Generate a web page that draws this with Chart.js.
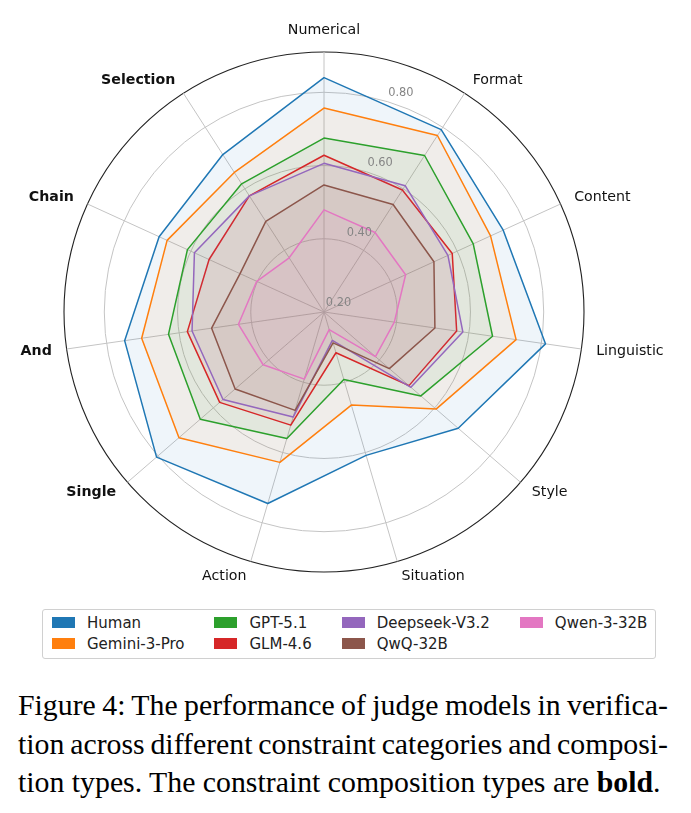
<!DOCTYPE html>
<html>
<head>
<meta charset="utf-8">
<script src="https://cdn.jsdelivr.net/npm/chart.js@4"></script>
<style>
  body { margin: 0; background: #fff; width: 691px; height: 813px; position: relative; overflow: hidden; }
  #wrap { position: absolute; left: 0; top: 0; width: 691px; height: 600px; }
  #legend {
    position: absolute; left: 42px; top: 609px;
    border: 1px solid #d0d0d0; border-radius: 3px;
    padding: 2px 8px 4px 9px;
    display: grid; grid-auto-flow: column; grid-template-rows: 21px 21px;
    column-gap: 30px;
    font-family: "DejaVu Sans", sans-serif; font-size: 15px; color: #222;
  }
  #legend .item { display: flex; align-items: center; white-space: nowrap; }
  #legend .sw { width: 23px; height: 11px; margin-right: 12px; }
  #caption {
    position: absolute; left: 18px; top: 686px; width: 650px;
    font-family: "Liberation Serif", "Times New Roman", serif; font-size: 29.8px;
    line-height: 38.5px; color: #000;
  }
  #caption div { white-space: nowrap; }
  #caption .j { text-align: justify; text-align-last: justify; word-spacing: -2.5px; }
</style>
</head>
<body>
<div id="wrap"><canvas id="radar" width="691" height="600"></canvas></div>
<div id="legend"></div>
<div id="caption">
  <div class="j">Figure 4: The performance of judge models in verifica-</div>
  <div class="j">tion across different constraint categories and composi-</div>
  <div>tion types. The constraint composition types are <b>bold</b>.</div>
</div>
<script>
// axis categories (clockwise from the top)
const categories = ["Numerical", "Format", "Content", "Linguistic", "Style", "Situation",
  "Action", "Single", "And", "Chain", "Selection"];
// composition types get bold labels
const boldCategories = ["Single", "And", "Chain", "Selection"];

// series values
const human    = [0.840, 0.792, 0.738, 0.811, 0.685, 0.608, 0.745, 0.805, 0.750, 0.695, 0.711];
const gemini   = [0.757, 0.773, 0.700, 0.730, 0.605, 0.465, 0.628, 0.724, 0.703, 0.671, 0.653];
const gpt      = [0.675, 0.708, 0.648, 0.665, 0.550, 0.392, 0.560, 0.647, 0.629, 0.610, 0.616];
const glm      = [0.628, 0.596, 0.585, 0.566, 0.507, 0.316, 0.522, 0.577, 0.577, 0.545, 0.577];
const deepseek = [0.606, 0.610, 0.572, 0.583, 0.514, 0.281, 0.499, 0.565, 0.564, 0.589, 0.577];
const qwq      = [0.547, 0.549, 0.530, 0.506, 0.436, 0.288, 0.480, 0.521, 0.510, 0.452, 0.494];
const qwen     = [0.479, 0.458, 0.445, 0.394, 0.386, 0.250, 0.391, 0.420, 0.436, 0.402, 0.376];

const seriesNames = ["Human", "Gemini-3-Pro", "GPT-5.1", "GLM-4.6", "Deepseek-V3.2", "QwQ-32B", "Qwen-3-32B"];
const seriesValues = [human, gemini, gpt, glm, deepseek, qwq, qwen];
const seriesColors = ["#1f77b4", "#ff7f0e", "#2ca02c", "#d62728", "#9467bd", "#8c564b", "#e377c2"];

// radial tick labels
const tickValues = [0.2, 0.4, 0.6, 0.8];
const tickLabels = ["0.20", "0.40", "0.60", "0.80"];

function withAlpha(hex, a) {
  var r = parseInt(hex.slice(1, 3), 16), g = parseInt(hex.slice(3, 5), 16), b = parseInt(hex.slice(5, 7), 16);
  return "rgba(" + r + "," + g + "," + b + "," + a + ")";
}

// Build datasets; later series sit on top, like the original
var datasets = seriesNames.map(function (name, i) {
  return {
    label: name,
    data: seriesValues[i],
    borderColor: seriesColors[i],
    backgroundColor: withAlpha(seriesColors[i], 0.07),
    borderWidth: 1.5,
    borderJoinStyle: "round",
    pointRadius: 0,
    fill: true,
    order: seriesNames.length - i
  };
});

const rMin = 0.2, rMax = 0.91;

// Draws the tick labels and category labels the way matplotlib places them
const labelPlugin = {
  id: "labelPlugin",
  afterDraw(chart) {
    const scale = chart.scales.r;
    const ctx = chart.ctx;
    ctx.save();
    // radial tick labels along a slanted line
    ctx.font = "11.4px 'DejaVu Sans'";
    ctx.fillStyle = "#858585";
    ctx.textAlign = "left";
    ctx.textBaseline = "bottom";
    const a = 16.5 * Math.PI / 180;
    tickValues.forEach(function (v, k) {
      const d = scale.getDistanceFromCenterForValue(v) + 3;
      ctx.fillText(tickLabels[k], scale.xCenter + d * Math.sin(a) + 1, scale.yCenter - d * Math.cos(a));
    });
    // category labels, anchored just outside the outer ring
    categories.forEach(function (name, i) {
      const p = scale.getPointPosition(i, scale.drawingArea + 15);
      const t = p.angle + Math.PI / 2; // clockwise from the top
      const sx = Math.sin(t), cy = Math.cos(t);
      ctx.font = (boldCategories.indexOf(name) !== -1 ? "bold " : "") + "14.2px 'DejaVu Sans'";
      ctx.fillStyle = "#111";
      if (Math.abs(sx) < 0.05) {
        ctx.textAlign = "center";
        ctx.textBaseline = cy > 0 ? "bottom" : "top";
      } else {
        ctx.textAlign = sx > 0 ? "left" : "right";
        ctx.textBaseline = "middle";
      }
      ctx.fillText(name, p.x, p.y);
    });
    ctx.restore();
  }
};

new Chart(document.getElementById("radar"), {
  type: "radar",
  data: { labels: categories, datasets: datasets },
  options: {
    responsive: false,
    animation: false,
    devicePixelRatio: 1,
    layout: { padding: { left: 64, right: 107, top: 52, bottom: 28 } },
    elements: { line: { tension: 0 } },
    plugins: { legend: { display: false }, tooltip: { enabled: false } },
    scales: {
      r: {
        min: rMin,
        max: rMax,
        ticks: { display: false, stepSize: 0.2 },
        pointLabels: { display: false },
        angleLines: { color: "#c4c4c4", lineWidth: 1 },
        grid: {
          circular: true,
          color: function (c) { return c.tick && c.tick.value > 0.85 ? "#222" : "#c4c4c4"; },
          lineWidth: function (c) { return c.tick && c.tick.value > 0.85 ? 1.1 : 1; }
        }
      }
    }
  },
  plugins: [labelPlugin]
});

// legend, filled column by column like matplotlib's ncol=4
var legend = document.getElementById("legend");
seriesNames.forEach(function (name, i) {
  var item = document.createElement("div");
  item.className = "item";
  item.innerHTML = '<span class="sw" style="background:' + seriesColors[i] + '"></span>' + name;
  legend.appendChild(item);
});
</script>
</body>
</html>
